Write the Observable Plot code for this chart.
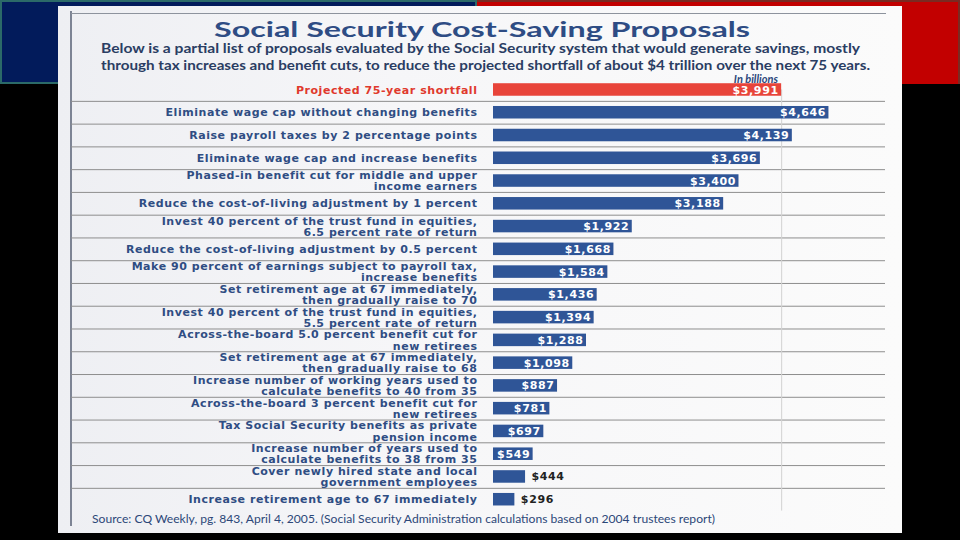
<!DOCTYPE html>
<html><head><meta charset="utf-8">
<script src="https://cdn.jsdelivr.net/npm/d3@7"></script>
<script src="https://cdn.jsdelivr.net/npm/@observablehq/plot@0.6"></script>
<style>
html,body{margin:0;padding:0;background:#000;width:960px;height:540px;overflow:hidden}
#stage{position:relative;width:960px;height:540px;background:#000;overflow:hidden}
.abs{position:absolute;white-space:nowrap}
#bandL{left:0;top:0;width:473px;height:80px;background:#021b5b;border:2px solid #2b6a68}
#bandR{left:477px;top:0;width:481px;height:82px;background:#c20000;border-top:2px solid #7a2a22;border-right:2px solid #7a2a22}
#paper{left:58px;top:6px;width:844px;height:527px;background:linear-gradient(90deg,#eeeff3 0%,#f6f6f8 40%,#fbfbfb 100%)}
#frameL{left:70px;top:11px;width:2px;height:515px;background:#7d8494}
#frameT{left:71px;top:13px;width:815px;height:1px;background:#8d939d}
#title{left:214px;top:15.8px;font:700 21px Lato,sans-serif;color:#2e4c84;line-height:25.2px;transform-origin:0 50%}
.sub{left:101px;font:700 12.5px Lato,sans-serif;color:#2a3d63;line-height:15px;transform-origin:0 50%}
#sub1{top:40.5px}
#sub2{top:57.5px}
#unit{left:700px;width:78px;text-align:right;top:72.1px;font:italic 700 11px Lato,sans-serif;color:#2c477a;line-height:13.2px}
#chart{left:0;top:60px;width:960px;height:470px}
#chart text.cat{letter-spacing:0.55px}
#chart text.val{letter-spacing:0.6px}
#source{left:92px;top:512px;font:400 11px Lato,sans-serif;color:#2c4778;line-height:13.2px;transform-origin:0 50%}
</style></head><body>
<div id="stage">
  <div class="abs" id="bandL"></div>
  <div class="abs" id="bandR"></div>
  <div class="abs" id="paper"></div>
  <div class="abs" id="frameL"></div>
  <div class="abs" id="frameT"></div>
  <div class="abs" id="title" data-w="536">Social Security Cost-Saving Proposals</div>
  <div class="abs sub" id="sub1" data-w="759">Below is a partial list of proposals evaluated by the Social Security system that would generate savings, mostly</div>
  <div class="abs sub" id="sub2" data-w="769">through tax increases and benefit cuts, to reduce the projected shortfall of about $4 trillion over the next 75 years.</div>
  <div class="abs" id="unit">In billions</div>
  <div class="abs" id="chart"></div>
  <div class="abs" id="source" data-w="623">Source: CQ Weekly, pg. 843, April 4, 2005. (Social Security Administration calculations based on 2004 trustees report)</div>
</div>
<script>
const proposals = [
  "Projected 75-year shortfall",
  "Eliminate wage cap without changing benefits",
  "Raise payroll taxes by 2 percentage points",
  "Eliminate wage cap and increase benefits",
  "Phased-in benefit cut for middle and upper\nincome earners",
  "Reduce the cost-of-living adjustment by 1 percent",
  "Invest 40 percent of the trust fund in equities,\n6.5 percent rate of return",
  "Reduce the cost-of-living adjustment by 0.5 percent",
  "Make 90 percent of earnings subject to payroll tax,\nincrease benefits",
  "Set retirement age at 67 immediately,\nthen gradually raise to 70",
  "Invest 40 percent of the trust fund in equities,\n5.5 percent rate of return",
  "Across-the-board 5.0 percent benefit cut for\nnew retirees",
  "Set retirement age at 67 immediately,\nthen gradually raise to 68",
  "Increase number of working years used to\ncalculate benefits to 40 from 35",
  "Across-the-board 3 percent benefit cut for\nnew retirees",
  "Tax Social Security benefits as private\npension income",
  "Increase number of years used to\ncalculate benefits to 38 from 35",
  "Cover newly hired state and local\ngovernment employees",
  "Increase retirement age to 67 immediately"
];
const savings = [3991, 4646, 4139, 3696, 3400, 3188, 1922, 1668, 1584, 1436, 1394, 1288, 1098, 887, 781, 697, 549, 444, 296];
const kinds = ["shortfall","proposal","proposal","proposal","proposal","proposal","proposal","proposal","proposal","proposal",
               "proposal","proposal","proposal","proposal","proposal","proposal","proposal","proposal","proposal"];

const RED = "#e8443a", BLUE = "#2f5597", NAVY = "#2f4d83", REDTXT = "#e0392d";
const n = proposals.length;
const data = proposals.map((label, i) => ({i, label, value: savings[i], kind: kinds[i]}));
const fmt = v => "$" + d3.format(",")(v);
const txt = {fontFamily: "DejaVu Sans", fontWeight: "bold"};

const chart = Plot.plot({
  width: 960, height: 470,
  marginTop: 0, marginBottom: 0, marginLeft: 0, marginRight: 0,
  x: {domain: [0, 5000], range: [493, 854], axis: null},
  y: {domain: [-0.5, n - 0.5], range: [18.1, 450.6], axis: null},
  color: {domain: ["shortfall", "proposal"], range: [RED, BLUE]},
  style: {background: "transparent", overflow: "visible"},
  marks: [
    Plot.ruleY(data.slice(1), {y: d => d.i - 0.5, stroke: "#8e8e8e", strokeWidth: 1, insetLeft: 71, insetRight: 75}),
    Plot.ruleX(data.filter(d => d.kind === "shortfall"), {x: "value", y1: 0, y2: n - 0.5, stroke: "#d2d2d2", strokeWidth: 1}),
    Plot.rectX(data, {x1: 0, x2: "value", y1: d => d.i - 0.275, y2: d => d.i + 0.275, fill: "kind"}),
    Plot.text(data, {filter: d => d.kind === "shortfall", x: 0, y: "i", text: "label", textAnchor: "end", dx: -16,
      fill: REDTXT, fontSize: 11, lineHeight: 1.02, className: "cat", ...txt}),
    Plot.text(data, {filter: d => d.kind !== "shortfall", x: 0, y: "i", text: "label", textAnchor: "end", dx: -16,
      fill: NAVY, fontSize: 11, lineHeight: 1.02, className: "cat", ...txt}),
    Plot.text(data, {filter: d => d.value >= 500, x: "value", y: "i", text: d => fmt(d.value), textAnchor: "end", dx: -3,
      fill: "white", fontSize: 11, className: "val", ...txt}),
    Plot.text(data, {filter: d => d.value < 500, x: "value", y: "i", text: d => fmt(d.value), textAnchor: "start", dx: 6,
      fill: "#222", fontSize: 11, className: "val", ...txt})
  ]
});
document.getElementById("chart").appendChild(chart);
chart.querySelectorAll("g.cat text").forEach(t => t.classList.add("cat"));
chart.querySelectorAll("g.val text").forEach(t => t.classList.add("val"));

// fit a few long text lines to the reference widths
document.querySelectorAll("[data-w]").forEach(el => {
  const w = el.getBoundingClientRect().width;
  const target = +el.dataset.w;
  el.style.transform = `scaleX(${target / w})`;
});
</script>
</body></html>
